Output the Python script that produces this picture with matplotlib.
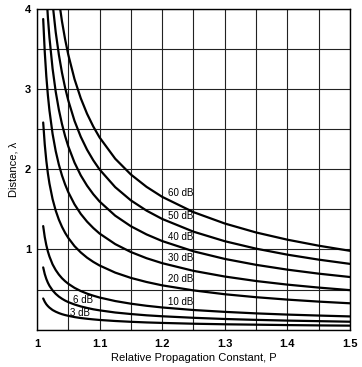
import matplotlib
matplotlib.use('Agg')
import matplotlib.pyplot as plt
from matplotlib.ticker import MultipleLocator

# ── data (distance in wavelengths vs P) ─────────────────────────────
P = [1.01, 1.0125, 1.015, 1.0175, 1.02, 1.025, 1.03, 1.035, 1.04, 1.045,
     1.05, 1.06, 1.07, 1.08, 1.09, 1.1, 1.125, 1.15, 1.175, 1.2,
     1.25, 1.3, 1.35, 1.4, 1.45, 1.5]

d_3dB  = [0.388, 0.347, 0.316, 0.293, 0.274, 0.244, 0.223, 0.206, 0.192, 0.181,
          0.172, 0.156, 0.144, 0.135, 0.127, 0.120, 0.107, 0.097, 0.089, 0.083,
          0.073, 0.066, 0.061, 0.056, 0.052, 0.049]
d_6dB  = [0.776, 0.693, 0.632, 0.585, 0.547, 0.489, 0.446, 0.412, 0.385, 0.362,
          0.343, 0.313, 0.289, 0.270, 0.253, 0.240, 0.213, 0.194, 0.178, 0.166,
          0.147, 0.132, 0.121, 0.112, 0.105, 0.098]
d_10dB = [1.292, 1.155, 1.054, 0.975, 0.912, 0.814, 0.743, 0.687, 0.641, 0.604,
          0.572, 0.521, 0.481, 0.449, 0.423, 0.400, 0.356, 0.323, 0.297, 0.276,
          0.244, 0.221, 0.202, 0.187, 0.175, 0.164]
d_20dB = [2.585, 2.311, 2.108, 1.950, 1.823, 1.629, 1.485, 1.373, 1.283, 1.208,
          1.145, 1.042, 0.963, 0.898, 0.845, 0.800, 0.711, 0.645, 0.594, 0.552,
          0.489, 0.441, 0.404, 0.374, 0.349, 0.328]
d_30dB = [3.877, 3.466, 3.162, 2.925, 2.735, 2.443, 2.228, 2.060, 1.924, 1.812,
          1.717, 1.564, 1.444, 1.348, 1.268, 1.199, 1.067, 0.968, 0.891, 0.829,
          0.733, 0.662, 0.606, 0.561, 0.524, 0.492]
d_40dB = [5.170, 4.621, 4.216, 3.900, 3.646, 3.258, 2.970, 2.746, 2.566, 2.416,
          2.289, 2.085, 1.925, 1.797, 1.690, 1.599, 1.422, 1.290, 1.188, 1.105,
          0.977, 0.882, 0.808, 0.748, 0.698, 0.656]
d_50dB = [6.462, 5.776, 5.270, 4.876, 4.558, 4.072, 3.713, 3.433, 3.207, 3.020,
          2.862, 2.606, 2.407, 2.246, 2.113, 1.999, 1.778, 1.613, 1.485, 1.381,
          1.222, 1.103, 1.010, 0.935, 0.873, 0.820]
d_60dB = [7.754, 6.932, 6.324, 5.851, 5.470, 4.886, 4.455, 4.120, 3.848, 3.624,
          3.434, 3.127, 2.888, 2.695, 2.535, 2.399, 2.133, 1.936, 1.782, 1.657,
          1.466, 1.324, 1.212, 1.122, 1.047, 0.983]

curves = [d_3dB, d_6dB, d_10dB, d_20dB, d_30dB, d_40dB, d_50dB, d_60dB]

# curve labels and where they sit
labels  = ['3 dB', '6 dB', '10 dB', '20 dB', '30 dB', '40 dB', '50 dB', '60 dB']
label_x = [1.069, 1.074, 1.23, 1.23, 1.23, 1.23, 1.23, 1.23]
label_y = [0.21, 0.37, 0.34, 0.63, 0.89, 1.15, 1.42, 1.71]

plt.rcParams['font.family'] = ['Liberation Sans', 'DejaVu Sans']

fig = plt.figure(figsize=(3.62, 3.67), dpi=100, facecolor='white')
ax = fig.add_axes([0.102, 0.102, 0.865, 0.873])

for d in curves:
    ax.plot(P, d, color='black', lw=1.6, solid_capstyle='round',
            solid_joinstyle='round', zorder=3)

for txt, x, y in zip(labels, label_x, label_y):
    ax.text(x, y, txt, fontsize=7, ha='center', va='center', color='black', zorder=4)

ax.set_xlim(1.0, 1.5)
ax.set_ylim(0, 4)
ax.xaxis.set_minor_locator(MultipleLocator(0.05))
ax.yaxis.set_minor_locator(MultipleLocator(0.5))
ax.set_xticks([1.0, 1.1, 1.2, 1.3, 1.4, 1.5])
ax.set_xticklabels(['1', '1.1', '1.2', '1.3', '1.4', '1.5'])
ax.set_yticks([1, 2, 3, 4])
ax.set_yticklabels(['1', '2', '3', '4'])
ax.tick_params(which='both', length=0, labelsize=8)
ax.tick_params(axis='x', pad=7)
ax.tick_params(axis='y', pad=4)
for lab in ax.get_xticklabels() + ax.get_yticklabels():
    lab.set_fontweight('bold')

ax.grid(which='both', color='#222222', lw=0.8, zorder=1)
for s in ax.spines.values():
    s.set_color('black')
    s.set_linewidth(1.0)

ax.set_xlabel('Relative Propagation Constant, P', fontsize=8, labelpad=3)
ax.set_ylabel('Distance, λ', fontsize=8, labelpad=5)

plt.savefig('out.png', dpi=100, facecolor='white')
